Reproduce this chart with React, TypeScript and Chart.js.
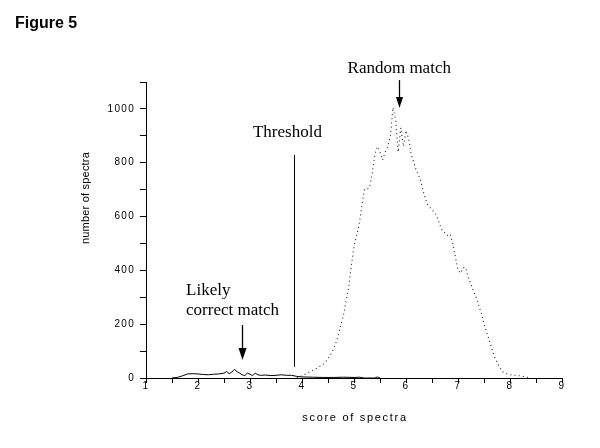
import { useEffect, useRef } from 'react';
import { Chart, registerables } from 'chart.js';

Chart.register(...registerables);

// Random match distribution (dotted)
const randomScores = [
  3.9, 4.0, 4.1, 4.2, 4.3, 4.4, 4.5, 4.6, 4.65, 4.7, 4.75, 4.8, 4.85, 4.9, 4.95,
  5.0, 5.05, 5.1, 5.15, 5.2, 5.25, 5.3, 5.35, 5.4, 5.45, 5.5, 5.55, 5.6, 5.65, 5.7,
  5.75, 5.8, 5.85, 5.9, 5.95, 6.0, 6.05, 6.1, 6.15, 6.2, 6.25, 6.3, 6.35, 6.4, 6.45,
  6.5, 6.55, 6.6, 6.65, 6.7, 6.75, 6.8, 6.85, 6.9, 6.95, 7.0, 7.05, 7.1, 7.15, 7.2,
  7.25, 7.3, 7.35, 7.4, 7.45, 7.5, 7.55, 7.6, 7.65, 7.7, 7.75, 7.8, 7.85, 7.9, 8.0,
  8.1, 8.2, 8.3, 8.4,
];
const randomCounts = [
  2, 8, 18, 28, 38, 50, 70, 105, 130, 160, 200, 235, 290, 340, 420,
  490, 530, 570, 640, 700, 700, 710, 760, 830, 860, 840, 810, 840, 860, 900,
  1005, 960, 840, 930, 860, 920, 890, 830, 800, 770, 750, 720, 680, 650, 635,
  625, 615, 600, 570, 545, 540, 530, 535, 500, 450, 400, 390, 410, 410, 370,
  350, 320, 300, 270, 240, 200, 170, 140, 110, 80, 60, 40, 25, 18, 12,
  10, 8, 4, 0,
];

// Likely correct match distribution (solid)
const correctScores = [
  1.5, 1.6, 1.7, 1.8, 1.9, 2.0, 2.1, 2.2, 2.3, 2.4, 2.5, 2.55, 2.6, 2.65, 2.7,
  2.75, 2.8, 2.85, 2.9, 2.95, 3.0, 3.05, 3.1, 3.15, 3.2, 3.3, 3.4, 3.5, 3.6, 3.7,
  3.8, 3.9, 4.0, 4.2, 4.4, 4.6, 4.8, 5.0, 5.1, 5.2, 5.4, 5.45, 5.5,
];
const correctCounts = [
  0, 2, 8, 15, 16, 15, 13, 12, 14, 15, 18, 24, 16, 22, 32,
  24, 18, 12, 9, 18, 14, 9, 18, 12, 10, 11, 9, 10, 12, 10,
  10, 6, 4, 3, 2, 2, 3, 2, 3, 0, 0, 4, 0,
];

const xTickLabels = ['1', '2', '3', '4', '5', '6', '7', '8', '9'];
const yTickLabels = ['0', '200', '400', '600', '800', '1000'];

const FIGURE_TITLE = 'Figure 5';
const X_TITLE = 'score of spectra';
const Y_TITLE = 'number of spectra';

// annotations in data units
const randomNote = { text: 'Random match', x: 5.87, y: 1133, arrowTop: 1107, arrowTip: 1003 };
const thresholdNote = { text: 'Threshold', x: 3.72, y: 896, lineX: 3.852, lineTop: 829, lineBottom: 41 };
const likelyNote = { lines: ['Likely', 'correct match'], x: 1.77, y: [308, 234], arrowX: 2.846, arrowTop: 197, arrowTip: 67 };

export default function App() {
  const ref = useRef<HTMLCanvasElement | null>(null);

  useEffect(() => {
    if (!ref.current) return;

    const drawArrow = (ctx: CanvasRenderingContext2D, x: number, top: number, tip: number, hw: number, hh: number) => {
      ctx.beginPath();
      ctx.moveTo(x, top);
      ctx.lineTo(x, tip - hh);
      ctx.stroke();
      ctx.beginPath();
      ctx.moveTo(x - hw, tip - hh);
      ctx.lineTo(x + hw, tip - hh);
      ctx.lineTo(x, tip);
      ctx.closePath();
      ctx.fill();
    };

    const notes = {
      id: 'notes',
      beforeDraw(chart: any) {
        (chart.ctx as any).letterSpacing = '1.3px';
      },
      afterDraw(chart: any) {
        const ctx = chart.ctx as CanvasRenderingContext2D;
        const xs = chart.scales.x;
        const ys = chart.scales.y;
        const ca = chart.chartArea;
        ctx.save();
        (ctx as any).letterSpacing = '0px';
        ctx.fillStyle = '#000';
        ctx.strokeStyle = '#000';
        ctx.lineWidth = 1;

        // Figure title
        ctx.font = 'bold 16px "Liberation Sans", Arial, sans-serif';
        ctx.textAlign = 'left';
        ctx.textBaseline = 'alphabetic';
        ctx.fillText(FIGURE_TITLE, 15, 28);

        // axis titles
        ctx.font = '11px "Liberation Sans", Arial, sans-serif';
        (ctx as any).letterSpacing = '1.7px';
        ctx.textAlign = 'center';
        ctx.textBaseline = 'alphabetic';
        ctx.fillText(X_TITLE, (ca.left + ca.right) / 2 + 1, 421);
        (ctx as any).letterSpacing = '0.2px';
        ctx.save();
        ctx.translate(89, 198);
        ctx.rotate(-Math.PI / 2);
        ctx.fillText(Y_TITLE, 0, 0);
        ctx.restore();
        (ctx as any).letterSpacing = '0px';

        // serif annotations
        ctx.font = '17px "Liberation Serif", "Times New Roman", serif';
        ctx.textAlign = 'center';
        ctx.fillText(randomNote.text, xs.getPixelForValue(randomNote.x), ys.getPixelForValue(randomNote.y));
        ctx.fillText(thresholdNote.text, xs.getPixelForValue(thresholdNote.x), ys.getPixelForValue(thresholdNote.y));
        ctx.textAlign = 'left';
        likelyNote.lines.forEach((t, i) => {
          ctx.fillText(t, xs.getPixelForValue(likelyNote.x), ys.getPixelForValue(likelyNote.y[i]));
        });

        // threshold line
        const tx = Math.round(xs.getPixelForValue(thresholdNote.lineX)) + 0.5;
        ctx.beginPath();
        ctx.moveTo(tx, ys.getPixelForValue(thresholdNote.lineTop));
        ctx.lineTo(tx, ys.getPixelForValue(thresholdNote.lineBottom));
        ctx.stroke();

        // arrows
        ctx.lineWidth = 1.3;
        drawArrow(
          ctx,
          Math.round(xs.getPixelForValue(randomNote.x)) + 0.5,
          ys.getPixelForValue(randomNote.arrowTop),
          ys.getPixelForValue(randomNote.arrowTip),
          3.5,
          11
        );
        drawArrow(
          ctx,
          Math.round(xs.getPixelForValue(likelyNote.arrowX)) + 0.5,
          ys.getPixelForValue(likelyNote.arrowTop),
          ys.getPixelForValue(likelyNote.arrowTip),
          4,
          12
        );
        ctx.restore();
      },
    };

    const chart = new Chart(ref.current, {
      type: 'line',
      data: {
        datasets: [
          {
            data: randomScores.map((x, i) => ({ x, y: randomCounts[i] })),
            borderColor: '#222',
            borderWidth: 1.1,
            borderDash: [1, 3.2],
            pointRadius: 0,
            fill: false,
            tension: 0,
          },
          {
            data: correctScores.map((x, i) => ({ x, y: correctCounts[i] })),
            borderColor: '#000',
            borderWidth: 1,
            pointRadius: 0,
            fill: false,
            tension: 0,
          },
        ],
      },
      options: {
        animation: false,
        responsive: true,
        maintainAspectRatio: false,
        layout: { padding: { left: 0, right: 38, top: 82, bottom: 0 } },
        plugins: { legend: { display: false }, tooltip: { enabled: false }, title: { display: false } },
        scales: {
          x: {
            type: 'linear',
            min: 1,
            max: 9,
            afterFit: (s: any) => {
              s.height = 70;
            },
            ticks: {
              stepSize: 0.5,
              autoSkip: false,
              maxRotation: 0,
              padding: -3,
              color: '#000',
              font: { family: '"Liberation Sans", Arial, sans-serif', size: 10 },
              callback: (v: any) => {
                const n = Number(v);
                return Number.isInteger(n) && xTickLabels.includes(String(n)) ? String(n) : '';
              },
            },
            grid: { drawOnChartArea: false, drawTicks: true, tickLength: 5, tickColor: '#000', tickWidth: 1 },
            border: { display: true, color: '#000', width: 1 },
          },
          y: {
            min: 0,
            max: 1100,
            afterFit: (s: any) => {
              s.width = 146;
            },
            ticks: {
              stepSize: 100,
              autoSkip: false,
              padding: 5,
              color: '#000',
              font: { family: '"Liberation Sans", Arial, sans-serif', size: 10 },
              callback: (v: any) => (yTickLabels.includes(String(v)) ? String(v) : ''),
            },
            grid: { drawOnChartArea: false, drawTicks: true, tickLength: 6, tickColor: '#000', tickWidth: 1 },
            border: { display: true, color: '#000', width: 1 },
          },
        },
      },
      plugins: [notes],
    });

    return () => chart.destroy();
  }, []);

  return (
    <div style={{ position: 'fixed', left: 0, top: 0, width: 600, height: 448, background: '#fff' }}>
      <canvas ref={ref} />
    </div>
  );
}
